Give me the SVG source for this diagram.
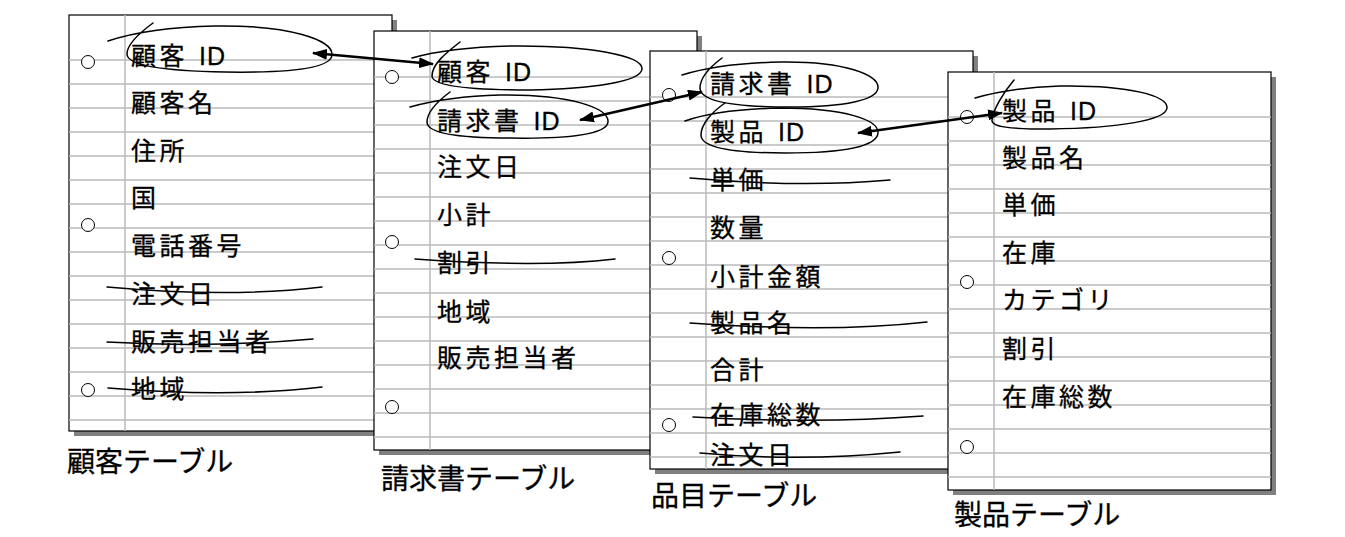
<svg xmlns="http://www.w3.org/2000/svg" width="1345" height="537" viewBox="0 0 1345 537">
<style>
.shadow{fill:#808080}
.page{fill:#fff;stroke:#000;stroke-width:1.2}
.rule{stroke:#bababa;stroke-width:1.5;fill:none}
.hole{fill:#fff;stroke:#000;stroke-width:1}
.row{font-family:"Liberation Sans","Noto Sans CJK JP",sans-serif;font-size:25px;letter-spacing:3.5px;fill:#000;stroke:#000;stroke-width:0.3}
.id{letter-spacing:1px}
.label{font-family:"Liberation Sans","Noto Sans CJK JP",sans-serif;font-size:28px;fill:#000;stroke:#000;stroke-width:0.3}
.hand{fill:none;stroke:#000;stroke-width:1.5;stroke-linecap:round}
.arrow{fill:none;stroke:#000;stroke-width:2.5}
</style>
<defs>
<marker id="ah" markerUnits="userSpaceOnUse" markerWidth="16" markerHeight="12" refX="14" refY="5.5" orient="auto-start-reverse">
<path d="M0,0 L15,5.5 L0,11 z" fill="#000"/>
</marker>
</defs>
<rect width="1345" height="537" fill="#fff"/>

<g id="sheet-customer">
<rect class="shadow" x="74" y="20" width="323" height="416"/>
<rect class="page" x="69" y="15" width="323" height="416"/>
<path class="rule" d="M69,60h323M69,84h323M69,108h323M69,132h323M69,156h323M69,180h323M69,204h323M69,228h323M69,252h323M69,276h323M69,300h323M69,324h323M69,348h323M69,372h323M69,396h323M69,420h323M125,15v416"/>
<circle class="hole" cx="88" cy="62" r="6.5"/>
<circle class="hole" cx="88" cy="225" r="6.5"/>
<circle class="hole" cx="88" cy="390" r="6.5"/>
<text class="row" x="131" y="65">顧客<tspan class="id" dx="3"> ID</tspan></text>
<text class="row" x="131" y="112">顧客名</text>
<text class="row" x="131" y="160">住所</text>
<text class="row" x="131" y="207">国</text>
<text class="row" x="131" y="255">電話番号</text>
<text class="row" x="131" y="303">注文日</text>
<text class="row" x="131" y="351">販売担当者</text>
<text class="row" x="131" y="398">地域</text>
<path class="hand" d="M108,41 C135,32 170,27 215,26 C290,25 333,40 332,55 C331,68 290,73 225,72 C165,71 127,66 127,54 C127,45 138,34 153,23"/>
<path class="hand" d="M107,287 Q230,298 322,287"/>
<path class="hand" d="M107,342 Q210,348 313,339"/>
<path class="hand" d="M108,388 Q230,398 322,387"/>
<text class="label" x="67" y="472">顧客テーブル</text>
</g>

<g id="sheet-invoice">
<rect class="shadow" x="379" y="36" width="323" height="419"/>
<rect class="page" x="374" y="31" width="323" height="419"/>
<path class="rule" d="M374,77h323M374,101h323M374,125h323M374,149h323M374,173h323M374,197h323M374,221h323M374,245h323M374,269h323M374,293h323M374,317h323M374,341h323M374,365h323M374,389h323M374,413h323M374,437h323M430,31v419"/>
<circle class="hole" cx="392" cy="77" r="6.5"/>
<circle class="hole" cx="392" cy="242" r="6.5"/>
<circle class="hole" cx="392" cy="407" r="6.5"/>
<text class="row" x="437" y="81">顧客<tspan class="id" dx="3"> ID</tspan></text>
<text class="row" x="437" y="130">請求書<tspan class="id" dx="3"> ID</tspan></text>
<text class="row" x="437" y="176">注文日</text>
<text class="row" x="437" y="224">小計</text>
<text class="row" x="437" y="272">割引</text>
<text class="row" x="437" y="321">地域</text>
<text class="row" x="437" y="367">販売担当者</text>
<path class="hand" d="M412,58 C440,50 470,47 510,46 C590,45 643,56 642,69 C641,82 590,89 530,90 C470,90 432,86 432,76 C432,64 446,53 460,42"/>
<path class="hand" d="M410,107 C435,100 460,96 500,95 C570,94 609,108 608,122 C607,134 570,139 510,138 C460,138 427,134 427,122 C427,112 438,101 450,92"/>
<path class="hand" d="M415,259 Q540,268 615,259"/>
<text class="label" x="381" y="489">請求書テーブル</text>
</g>

<g id="sheet-items">
<rect class="shadow" x="655" y="56" width="323" height="418"/>
<rect class="page" x="650" y="51" width="323" height="418"/>
<path class="rule" d="M650,97h323M650,121h323M650,145h323M650,169h323M650,193h323M650,217h323M650,241h323M650,265h323M650,289h323M650,313h323M650,337h323M650,361h323M650,385h323M650,409h323M650,433h323M650,457h323M706,51v418"/>
<circle class="hole" cx="669" cy="95" r="6.5"/>
<circle class="hole" cx="669" cy="258" r="6.5"/>
<circle class="hole" cx="669" cy="425" r="6.5"/>
<text class="row" x="710" y="93">請求書<tspan class="id" dx="3"> ID</tspan></text>
<text class="row" x="710" y="141">製品<tspan class="id" dx="3"> ID</tspan></text>
<text class="row" x="710" y="189">単価</text>
<text class="row" x="710" y="237">数量</text>
<text class="row" x="710" y="286">小計金額</text>
<text class="row" x="710" y="332">製品名</text>
<text class="row" x="710" y="379">合計</text>
<text class="row" x="710" y="424">在庫総数</text>
<text class="row" x="710" y="464">注文日</text>
<path class="hand" d="M682,75 C705,68 735,63 780,62 C845,61 879,75 878,88 C877,100 845,107 790,107 C735,107 700,102 700,88 C700,78 710,67 722,58"/>
<path class="hand" d="M685,121 C705,114 735,109 780,108 C845,108 879,120 878,133 C877,146 845,153 785,153 C735,153 701,148 701,135 C701,124 712,112 725,103"/>
<path class="hand" d="M690,178 Q800,188 890,180"/>
<path class="hand" d="M690,323 Q830,333 927,322"/>
<path class="hand" d="M693,417 Q820,424 923,416"/>
<path class="hand" d="M700,453 Q800,462 900,452"/>
<text class="label" x="651" y="506">品目テーブル</text>
</g>

<g id="sheet-products">
<rect class="shadow" x="953" y="77" width="323" height="418"/>
<rect class="page" x="948" y="72" width="323" height="418"/>
<path class="rule" d="M948,117h323M948,141h323M948,165h323M948,189h323M948,213h323M948,237h323M948,261h323M948,285h323M948,309h323M948,333h323M948,357h323M948,381h323M948,405h323M948,429h323M948,453h323M948,477h323M994,72v418"/>
<circle class="hole" cx="967" cy="117" r="6.5"/>
<circle class="hole" cx="967" cy="282" r="6.5"/>
<circle class="hole" cx="967" cy="447" r="6.5"/>
<text class="row" x="1002" y="120">製品<tspan class="id" dx="3"> ID</tspan></text>
<text class="row" x="1002" y="167">製品名</text>
<text class="row" x="1002" y="214">単価</text>
<text class="row" x="1002" y="262">在庫</text>
<text class="row" x="1002" y="309">カテゴリ</text>
<text class="row" x="1002" y="358">割引</text>
<text class="row" x="1002" y="406">在庫総数</text>
<path class="hand" d="M975,98 C1000,91 1025,87 1060,86 C1130,85 1168,96 1167,108 C1166,120 1120,128 1050,129 C1010,129 991,127 992,120 C993,110 1003,93 1014,80"/>
<text class="label" x="954" y="525">製品テーブル</text>
</g>

<g id="connectors">
<path class="arrow" d="M313,53 L433,64" marker-start="url(#ah)" marker-end="url(#ah)"/>
<path class="arrow" d="M580,120 L702,92" marker-start="url(#ah)" marker-end="url(#ah)"/>
<path class="arrow" d="M858,133 L1002,113" marker-start="url(#ah)" marker-end="url(#ah)"/>
</g>
</svg>
